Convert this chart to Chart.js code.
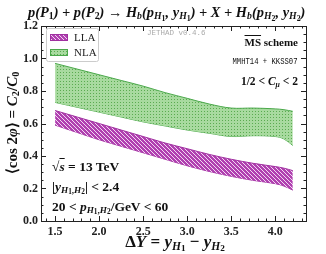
<!DOCTYPE html>
<html>
<head>
<meta charset="utf-8">
<script src="https://cdn.jsdelivr.net/npm/chart.js@4.4.1/dist/chart.umd.min.js"></script>
<style>
  html, body { margin:0; padding:0; background:#fff; }
  #wrap { position:relative; width:326px; height:254px; overflow:hidden; }
  #c { position:absolute; left:0; top:0; }
  .t { position:absolute; font-family:"Liberation Serif", serif; color:#111; white-space:nowrap; line-height:1; }
  .t sub { font-size:0.68em; vertical-align:-0.25em; }
  .t sub sub { font-size:0.8em; vertical-align:-0.2em; }
  .mono { font-family:"Liberation Mono", monospace; }
</style>
</head>
<body>
<div id="wrap">
  <canvas id="c" width="326" height="254"></canvas>
  <div class="t" id="title" style="left:28px; top:5px; font-size:14.4px; font-weight:bold; font-style:italic;">p(P<sub style="font-style:normal">1</sub>) + p(P<sub style="font-style:normal">2</sub>) → H<sub>b</sub>(p<sub>H<sub style="font-style:normal">1</sub></sub>, y<sub>H<sub style="font-style:normal">1</sub></sub>) + X + H<sub>b</sub>(p<sub>H<sub style="font-style:normal">2</sub></sub>, y<sub>H<sub style="font-style:normal">2</sub></sub>)</div>
  <div class="t" id="ytitle" style="left:13px; top:123px; font-size:15px; font-weight:bold; transform:translate(-50%,-50%) rotate(-90deg);">⟨cos 2<i>φ</i>⟩ = <i>C</i><sub>2</sub>/<i>C</i><sub>0</sub></div>
  <div class="t" id="xtitle" style="left:175px; top:243px; font-size:17px; font-weight:bold; transform:translate(-50%,-50%);">Δ<i>Y</i> = <i>y</i><sub><i>H</i><sub>1</sub></sub> − <i>y</i><sub><i>H</i><sub>2</sub></sub></div>
  <div class="t mono" style="left:147px; top:30px; font-size:7.5px; color:#aaa;">JETHAD v0.4.6</div>
  <div class="t" style="right:28px; top:37px; font-size:11px; font-weight:bold;"><span style="text-decoration:overline">MS</span> scheme</div>
  <div class="t mono" style="right:28px; top:58px; font-size:8.5px; transform:scaleX(0.85); transform-origin:right center;">MMHT14 + KKSS07</div>
  <div class="t" style="right:28px; top:76px; font-size:11.5px; font-weight:bold;">1/2 &lt; <i>C</i><sub><i>μ</i></sub> &lt; 2</div>
  <div class="t" style="left:52px; top:160px; font-size:13.5px; font-weight:bold;">√<span style="text-decoration:overline"><i>s</i></span> = 13 TeV</div>
  <div class="t" style="left:52px; top:180px; font-size:13.5px; font-weight:bold;">|<i>y</i><sub><i>H</i><sub>1</sub>,<i>H</i><sub>2</sub></sub>| &lt; 2.4</div>
  <div class="t" style="left:52px; top:200px; font-size:13.5px; font-weight:bold;">20 &lt; <i>p</i><sub><i>H</i><sub>1</sub>,<i>H</i><sub>2</sub></sub>/GeV &lt; 60</div>
</div>
<script>
// data
const deltaY   = [1.5, 1.75, 2.0, 2.25, 2.5, 2.75, 3.0, 3.25, 3.5, 3.75, 4.0, 4.1, 4.2];
const nlaUpper = [0.97, 0.935, 0.90, 0.865, 0.83, 0.79, 0.755, 0.72, 0.695, 0.695, 0.69, 0.685, 0.675];
const nlaLower = [0.73, 0.70, 0.67, 0.64, 0.61, 0.585, 0.56, 0.54, 0.52, 0.525, 0.52, 0.505, 0.465];
const llaUpper = [0.68, 0.64, 0.60, 0.56, 0.52, 0.48, 0.445, 0.41, 0.38, 0.355, 0.335, 0.325, 0.31];
const llaLower = [0.59, 0.545, 0.50, 0.46, 0.42, 0.38, 0.34, 0.305, 0.275, 0.25, 0.23, 0.215, 0.19];
const xTicks = [1.5, 2.0, 2.5, 3.0, 3.5, 4.0];
const yTicks = [0.0, 0.2, 0.4, 0.6, 0.8, 1.0, 1.2];

function pts(ys){ return deltaY.map(function(x,i){ return {x:x, y:ys[i]} }) }

function hatch(){
    let p = document.createElement("canvas")
    p.width = 4; p.height = 4
    let g = p.getContext("2d")
    g.fillStyle = "#b040b0"
    g.fillRect(0,0,4,4)
    g.strokeStyle = "#f2d6f2"
    g.lineWidth = 1
    g.beginPath()
    g.moveTo(-1,-1); g.lineTo(5,5)
    g.moveTo(-1,3); g.lineTo(1,5)
    g.moveTo(3,-1); g.lineTo(5,1)
    g.stroke()
    return g.createPattern(p,"repeat")
}
function dots(){
    let p = document.createElement("canvas")
    p.width = 3; p.height = 3
    let g = p.getContext("2d")
    g.fillStyle = "#a8da9f"
    g.fillRect(0,0,3,3)
    g.fillStyle = "#5aab50"
    g.fillRect(0,0,1,1)
    return g.createPattern(p,"repeat")
}
const llaFill = hatch()
const nlaFill = dots()

// frame, inward ticks and legend box
const frame = {
    id:"frame",
    afterDraw(chart){
        let ctx = chart.ctx, a = chart.chartArea
        let xs = chart.scales.x, ys = chart.scales.y
        ctx.save()
        ctx.strokeStyle = "#222"
        ctx.lineWidth = 1
        ctx.strokeRect(a.left+0.5, a.top+0.5, a.right-a.left, a.bottom-a.top)
        ctx.beginPath()
        for(let v=1.4; v<4.35; v+=0.1){
            let px = Math.round(xs.getPixelForValue(v))+0.5
            let major = Math.abs(v*2-Math.round(v*2)) < 1e-6
            let l = major ? 5 : 2.5
            ctx.moveTo(px,a.bottom); ctx.lineTo(px,a.bottom-l)
            ctx.moveTo(px,a.top); ctx.lineTo(px,a.top+l)
        }
        for(let v=0.05; v<1.2; v+=0.05){
            let py = Math.round(ys.getPixelForValue(v))+0.5
            let major = Math.abs(v*5-Math.round(v*5)) < 1e-6
            let l = major ? 5 : 2.5
            ctx.moveTo(a.left,py); ctx.lineTo(a.left+l,py)
            ctx.moveTo(a.right,py); ctx.lineTo(a.right-l,py)
        }
        ctx.stroke()

        // legend
        let bx = a.left+5, by = a.top+2, bw = 52, bh = 33
        ctx.fillStyle = "#fff"
        ctx.strokeStyle = "#ccc"
        ctx.beginPath()
        ctx.roundRect(bx+0.5, by+0.5, bw, bh, 2)
        ctx.fill(); ctx.stroke()
        let items = [["LLA", llaFill, "#a030a0"], ["NLA", nlaFill, "#4aa84a"]]
        items.forEach(function(it, i){
            let sy = by + 6 + i*15
            ctx.fillStyle = it[1]
            ctx.fillRect(bx+4, sy, 18, 7)
            ctx.strokeStyle = it[2]
            ctx.strokeRect(bx+4.5, sy+0.5, 17, 6)
            ctx.fillStyle = "#222"
            ctx.font = "11px 'Liberation Serif'"
            ctx.textBaseline = "middle"
            ctx.fillText(it[0], bx+28, sy+4)
        })
        ctx.restore()
    }
}

const chart = new Chart(document.getElementById("c"), {
    type:"line",
    data:{
        datasets:[
            {label:"NLA", data:pts(nlaUpper), borderColor:"#4aa84a", borderWidth:1, backgroundColor:nlaFill, fill:"+1"},
            {label:"NLA low", data:pts(nlaLower), borderColor:"#4aa84a", borderWidth:1, fill:false},
            {label:"LLA", data:pts(llaUpper), borderColor:"#a030a0", borderWidth:1, backgroundColor:llaFill, fill:"+1"},
            {label:"LLA low", data:pts(llaLower), borderColor:"#a030a0", borderWidth:1, fill:false}
        ]
    },
    options:{
        responsive:false,
        animation:false,
        devicePixelRatio:1,
        elements:{ point:{radius:0}, line:{tension:0.35} },
        layout:{ padding:{top:26, right:20, left:0, bottom:0} },
        plugins:{ legend:{display:false}, tooltip:{enabled:false} },
        scales:{
            x:{
                type:"linear", min:1.34, max:4.35,
                grid:{display:false, drawTicks:false}, border:{display:false},
                afterBuildTicks(s){ s.ticks = xTicks.map(function(v){ return {value:v} }) },
                afterFit(s){ s.height = 33 },
                ticks:{ padding:4, color:"#222", font:{family:"Liberation Serif", size:12, weight:"bold"},
                        callback:function(v){ return v.toFixed(1) } }
            },
            y:{
                min:0, max:1.2,
                grid:{display:false, drawTicks:false}, border:{display:false},
                afterBuildTicks(s){ s.ticks = yTicks.map(function(v){ return {value:v} }) },
                afterFit(s){ s.width = 41 },
                ticks:{ padding:3, color:"#222", font:{family:"Liberation Serif", size:12, weight:"bold"},
                        callback:function(v){ return v.toFixed(1) } }
            }
        }
    },
    plugins:[frame]
})
</script>
</body>
</html>
